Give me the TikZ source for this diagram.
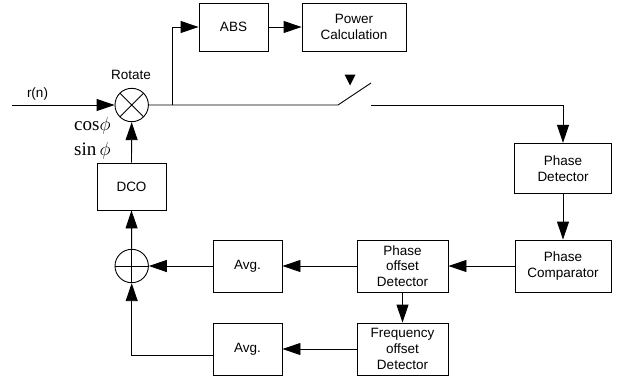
\RequirePackage{fix-cm}
\documentclass[tikz,border=0pt]{standalone}
\usepackage{fontspec}
\newfontfamily\arialf{Liberation Sans}
\newfontfamily\timesf{Liberation Serif}
\usetikzlibrary{arrows.meta,calc}
\begin{document}
\begin{tikzpicture}[x=1pt,y=-1pt,
  blk/.style={draw, line width=0.9pt, inner sep=0pt, font=\arialf\fontsize{13.5}{15.8}\selectfont, align=center},
  lbl/.style={inner sep=0pt, font=\arialf\fontsize{13.5}{15.8}\selectfont},
  mathlbl/.style={inner sep=0pt, anchor=base west, font=\timesf\fontsize{19}{20}\selectfont},
  conn/.style={line width=0.9pt},
  arr/.style={conn, -{Triangle[length=18pt,width=12pt]}},
  mixer/.style={draw, circle, line width=0.9pt, minimum size=33.4pt, inner sep=0pt,
    path picture={\draw[line width=0.9pt] (path picture bounding box.north west) -- (path picture bounding box.south east)
      (path picture bounding box.north east) -- (path picture bounding box.south west);}},
  adder/.style={draw, circle, line width=0.9pt, minimum size=33.4pt, inner sep=0pt,
    path picture={\draw[line width=0.9pt] (path picture bounding box.north) -- (path picture bounding box.south)
      (path picture bounding box.east) -- (path picture bounding box.west);}},
]
\useasboundingbox (0,0) rectangle (617,376);
% blocks
\node[blk, minimum width=69pt, minimum height=48pt] (abs) at (233.5,27) {ABS};
\node[blk, minimum width=104pt, minimum height=48pt] (pow) at (354,27) {Power\\Calculation};
\node[mixer] (rot) at (131.7,105) {};
\node[blk, minimum width=69pt, minimum height=47pt] (dco) at (131.5,186.5) {DCO};
\node[blk, minimum width=97pt, minimum height=50pt] (pd) at (563,168.3) {Phase\\Detector};
\node[blk, minimum width=96pt, minimum height=52pt] (pc) at (563,266) {Phase\\Comparator};
\node[blk, minimum width=91pt, minimum height=52pt] (pod) at (402.5,266) {Phase\\offset\\Detector};
\node[blk, minimum width=69pt, minimum height=52pt] (avga) at (247.5,266) {Avg.};
\node[adder] (sum) at (131.7,266) {};
\node[blk, minimum width=91pt, minimum height=52pt] (fod) at (402.5,349) {Frequency\\offset\\Detector};
\node[blk, minimum width=69pt, minimum height=52pt] (avgb) at (247.5,349) {Avg.};
% labels
\node[lbl] (rn) at (37.5,94) {r(n)};
\node[lbl] (rotl) at (131,75) {Rotate};
\node[mathlbl] (cosl) at (74,130.5) {cos$\phi$};
\node[mathlbl] (sinl) at (74,155) {sin$\,\phi$};
% coordinates
\coordinate (in) at (12,105);
\coordinate (br) at (172,105);
\coordinate (sw1) at (338,105);
\coordinate (sw2) at (371,83);
\coordinate (sw3) at (371,105);
\coordinate (a2) at ($(avgb.west)+(0,6)$);
% switch control triangle
\fill (344.5,74.5) -- (355.5,74.5) -- (350,85.5) -- cycle;
% connectors
\draw[arr] (in) -- (rot.west);
\draw[arr] (dco.north) -- (rot.south);
\draw[conn] (rot.east) -- (sw1) -- (sw2);
\draw[arr] (br) |- (abs.west);
\draw[arr] (abs.east) -- (pow.west);
\draw[arr] (sw3) -| (pd.north);
\draw[arr] (pd.south) -- (pc.north);
\draw[arr] (pc.west) -- (pod.east);
\draw[arr] (pod.west) -- (avga.east);
\draw[arr] (avga.west) -- (sum.east);
\draw[arr] (sum.north) -- (dco.south);
\draw[arr] (pod.south) -- (fod.north);
\draw[arr] (fod.west) -- (avgb.east);
\draw[arr] (a2) -| (sum.south);
\end{tikzpicture}
\end{document}
